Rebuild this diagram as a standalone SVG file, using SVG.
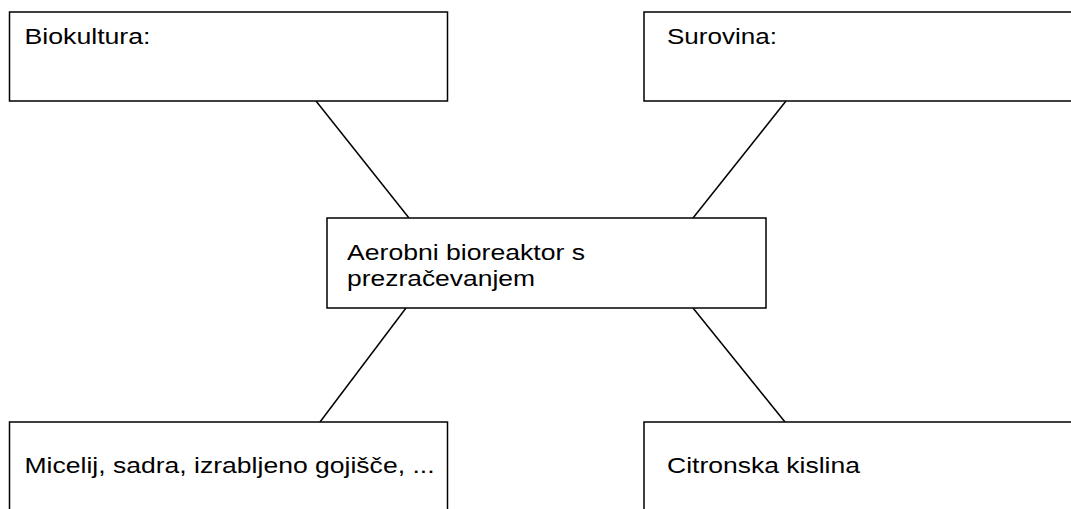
<svg xmlns="http://www.w3.org/2000/svg" width="1071" height="509" viewBox="0 0 1071 509">
<style>
.box{fill:#fff;stroke:#000;stroke-width:1.5}
.t{font-family:"Liberation Sans",Arial,sans-serif;font-size:22.5px;fill:#000}
.c{stroke:#000;stroke-width:1.5;fill:none}
</style>
<rect width="1071" height="509" fill="#fff"/>
<g id="connectors">
<line class="c" x1="316" y1="101" x2="409" y2="218"/>
<line class="c" x1="786" y1="101" x2="693" y2="218"/>
<line class="c" x1="406" y1="308" x2="320" y2="422"/>
<line class="c" x1="693" y1="308" x2="785" y2="422"/>
</g>
<g id="biokultura">
<rect class="box" x="9.5" y="12" width="438" height="89"/>
<text class="t" x="24.5" y="44" textLength="126" lengthAdjust="spacingAndGlyphs">Biokultura:</text>
</g>
<g id="surovina">
<rect class="box" x="644" y="12" width="440" height="89"/>
<text class="t" x="667" y="44" textLength="110" lengthAdjust="spacingAndGlyphs">Surovina:</text>
</g>
<g id="bioreaktor">
<rect class="box" x="327" y="218" width="439" height="90"/>
<text class="t" x="347" y="259.5" textLength="238" lengthAdjust="spacingAndGlyphs">Aerobni bioreaktor s</text>
<text class="t" x="347" y="286" textLength="188" lengthAdjust="spacingAndGlyphs">prezračevanjem</text>
</g>
<g id="micelij">
<rect class="box" x="9.5" y="422" width="438" height="100"/>
<text class="t" x="24.5" y="473" textLength="410" lengthAdjust="spacingAndGlyphs">Micelij, sadra, izrabljeno gojišče, ...</text>
</g>
<g id="citronska">
<rect class="box" x="644" y="422" width="440" height="100"/>
<text class="t" x="667" y="473" textLength="193" lengthAdjust="spacingAndGlyphs">Citronska kislina</text>
</g>
</svg>
